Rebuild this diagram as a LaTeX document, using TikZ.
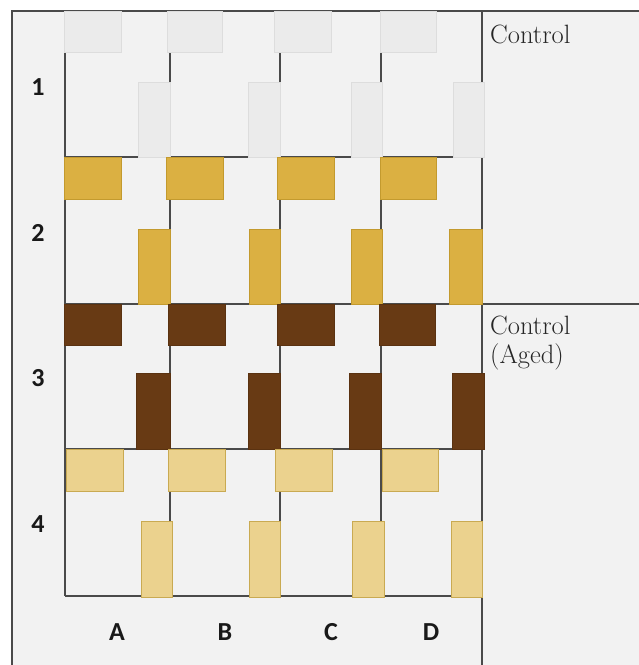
\documentclass[tikz,border=0pt]{standalone}
\usepackage{fontspec}
\newfontfamily\labfont{Carlito}
\definecolor{bgc}{HTML}{F2F2F2}
\definecolor{linec}{HTML}{4A4A4A}
\definecolor{c1}{HTML}{EBEBEB}
\definecolor{c1d}{HTML}{DDDDDD}
\definecolor{c2}{HTML}{DBB042}
\definecolor{c2d}{HTML}{C39A2E}
\definecolor{c3}{HTML}{683A14}
\definecolor{c3d}{HTML}{5A3211}
\definecolor{c4}{HTML}{EBD28E}
\definecolor{c4d}{HTML}{C9AA52}
\begin{document}
\begin{tikzpicture}[x=1pt,y=-1pt,
  gridline/.style={draw=linec,line width=1.8pt},
  blk/.style={line width=1pt},
  rowlab/.style={font=\labfont\bfseries\fontsize{26}{30}\selectfont,anchor=center,inner sep=0pt,text=black!90},
  grplab/.style={font=\fontsize{26.5}{29}\selectfont,anchor=base west,inner sep=0pt,text=black!85}]
\useasboundingbox (0,0) rectangle (639,665);
\fill[white] (0,0) rectangle (639,665);
\fill[bgc] (12,11) rectangle (639,665);
% frame
\draw[gridline] (639,11) -- (12,11) -- (12,665);
\draw[gridline] (482,11) -- (482,665);
\draw[gridline] (482,304) -- (639,304);
% grid
\foreach \y in {157,304,449,596} \draw[gridline] (65,\y) -- (482,\y);
\foreach \x in {65,170,280,381} \draw[gridline] (\x,11) -- (\x,596);
% row 1
\foreach \l/\r in {64/121,167/222,274/331,380/436}
  \draw[blk,fill=c1,draw=c1d] (\l,11) rectangle (\r,52);
\foreach \l/\r in {138/170,248/280,351/382,453/484}
  \draw[blk,fill=c1,draw=c1d] (\l,82) rectangle (\r,157);
% row 2
\foreach \l/\r in {64/121,166/223,277/334,380/436}
  \draw[blk,fill=c2,draw=c2d] (\l,157) rectangle (\r,199);
\foreach \l/\r in {138/170,249/280,351/382,449/482}
  \draw[blk,fill=c2,draw=c2d] (\l,229) rectangle (\r,304);
% row 3
\foreach \l/\r in {64/121,168/225,277/334,379/435}
  \draw[blk,fill=c3,draw=c3d] (\l,304) rectangle (\r,345);
\foreach \l/\r in {136/170,248/280,349/381,452/484}
  \draw[blk,fill=c3,draw=c3d] (\l,373) rectangle (\r,449);
% row 4
\foreach \l/\r in {66/123,168/225,275/332,382/438}
  \draw[blk,fill=c4,draw=c4d] (\l,449) rectangle (\r,491);
\foreach \l/\r in {141/172,249/280,352/384,451/482}
  \draw[blk,fill=c4,draw=c4d] (\l,521) rectangle (\r,597);
% labels
\node[rowlab] (r1) at (38,87) {1};
\node[rowlab] (r2) at (38,233) {2};
\node[rowlab] (r3) at (38,378) {3};
\node[rowlab] (r4) at (38,524) {4};
\node[rowlab] (cA) at (117,632) {A};
\node[rowlab] (cB) at (225,632) {B};
\node[rowlab] (cC) at (331,632) {C};
\node[rowlab] (cD) at (431,632) {D};
\node[grplab] (g1) at (490,43) {Control};
\node[grplab] (g2) at (490,334) {Control};
\node[grplab] (g3) at (490,363) {(Aged)};
\end{tikzpicture}
\end{document}
